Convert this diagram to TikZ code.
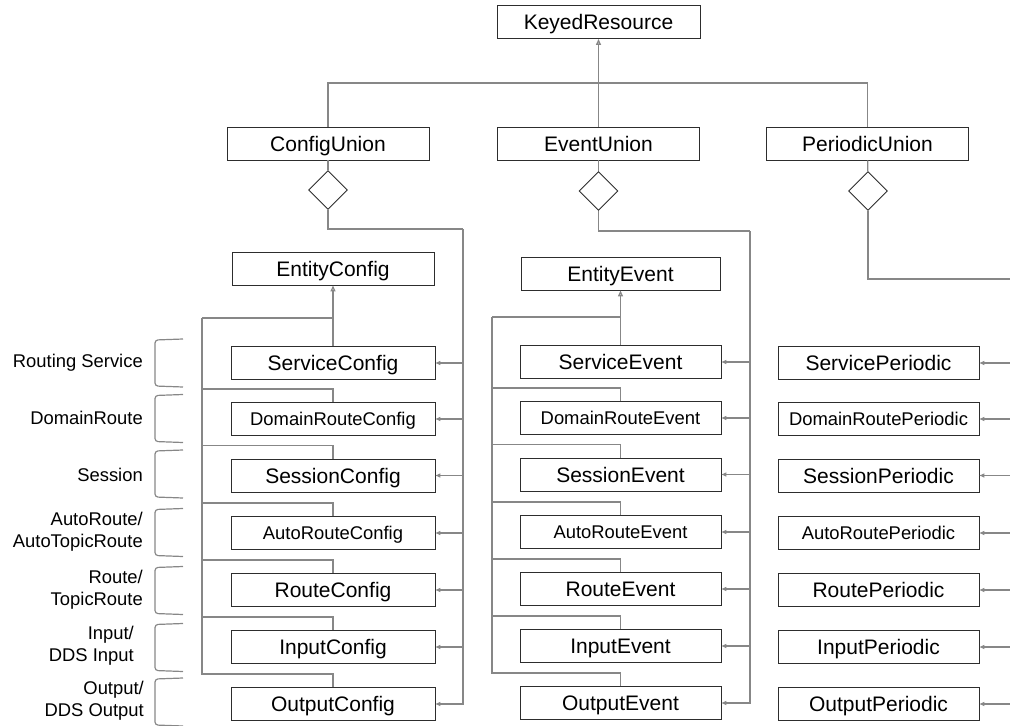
\documentclass[tikz,border=0pt]{standalone}
\usepackage{fontspec}
\setmainfont{Liberation Sans}
\usetikzlibrary{shapes.geometric, positioning, calc, arrows.meta}
\definecolor{krLine}{RGB}{135,135,135}
\definecolor{krBox}{RGB}{45,45,45}

\tikzset{
  classbox/.style={draw=krBox, line width=0.9pt, minimum height=33pt, inner sep=0pt, fill=white,
    text height=15pt, text depth=0pt, font=\fontsize{21}{25}\selectfont},
  aggmark/.style={diamond, draw=krBox, line width=0.9pt, minimum width=39pt, minimum height=39pt, inner sep=0pt},
  conn/.style={draw=krLine, line width=1.3pt},
  feed/.style={conn, -{Triangle[length=5pt,width=4pt]}},
  inherit/.style={conn, -{Triangle[open,length=6pt,width=5pt]}},
  bracket/.style={draw=krLine, line width=1.2pt, rounded corners=3pt},
  sidelabel/.style={anchor=east, align=right, inner sep=0pt, font=\fontsize{18.4}{22}\selectfont}
}

\begin{document}
\begin{tikzpicture}[x=1pt, y=-1pt]
  \useasboundingbox (0,0) rectangle (1010,726);

  % top of the hierarchy
  \node[classbox, minimum width=203pt] (kr) at (598.5,22) {KeyedResource};
  \node[classbox, minimum width=202pt] (cu) at (328,143.5) {ConfigUnion};
  \node[classbox, minimum width=202pt] (eu) at (598.5,143.5) {EventUnion};
  \node[classbox, minimum width=202pt] (pu) at (867.5,143.5) {PeriodicUnion};
  \draw[inherit] (eu.north) -- (kr.south);
  \draw[conn] (cu.north) |- (eu.north |- 0,83) -| (pu.north);

  % aggregation diamonds
  \node[aggmark] (cd) at (328,190) {};
  \node[aggmark] (ed) at (598.5,191) {};
  \node[aggmark] (pd) at (868,191) {};
  \draw[conn] (cu) -- (cd);
  \draw[conn] (eu) -- (ed);
  \draw[conn] (pu) -- (pd);

  % base classes
  \node[classbox, minimum width=202pt] (ec) at (333,268.5) {EntityConfig};
  \node[classbox, minimum width=199pt] (ee) at (620.5,273.5) {EntityEvent};

  % one row per entity
  \foreach \i/\nm/\sz/\th/\y in {1/Service/21/15/363, 2/DomainRoute/18.4/13.2/419, 3/Session/21/15/475.5,
      4/AutoRoute/18.4/13.2/533, 5/Route/21/15/590, 6/Input/21/15/647, 7/Output/21/15/704} {
    \node[classbox, minimum width=204pt, text height=\th pt, font=\fontsize{\sz}{22}\selectfont] (c\i) at (333,\y) {\nm Config};
    \node[classbox, minimum width=201pt, text height=\th pt, font=\fontsize{\sz}{22}\selectfont] (e\i) at (620.5,\y-1) {\nm Event};
    \node[classbox, minimum width=201pt, text height=\th pt, font=\fontsize{\sz}{22}\selectfont] (p\i) at (878.5,\y) {\nm Periodic};
  }

  % inheritance trees
  \coordinate (cbus) at (202,318);
  \coordinate (ebus) at (492,317);
  \draw[inherit] (c1.north) -- (ec.south);
  \draw[inherit] (e1.north) -- (ee.south);
  \draw[conn] (cbus) -- (cbus -| c1.north);
  \draw[conn] (ebus) -- (ebus -| e1.north);
  \foreach \i in {2,...,7} {
    \draw[conn] (c\i.north) -- ++(0,-13) -| (cbus);
    \draw[conn] (e\i.north) -- ++(0,-13) -| (ebus);
  }

  % union members
  \coordinate (cr) at (463,229);
  \coordinate (er) at (750,231);
  \coordinate (pr) at (1010,279);
  \draw[conn] (cd.south) |- (cr);
  \draw[conn] (ed.south) |- (er);
  \draw[conn] (pd.south) |- (pr);
  \draw[feed] (cr) |- (c7.east);
  \draw[feed] (er) |- (e7.east);
  \foreach \i in {1,...,6} {
    \draw[feed] (cr |- c\i.east) -- (c\i.east);
    \draw[feed] (er |- e\i.east) -- (e\i.east);
  }
  \foreach \i in {1,...,7}
    \draw[feed] (pr |- p\i.east) -- (p\i.east);

  % entity labels
  \foreach \i/\x/\y/\txt in {1/143/363/Routing Service, 2/143/418/DomainRoute, 3/143/475/Session,
      4/143/532/{AutoRoute/\\AutoTopicRoute}, 5/143/590/{Route/\\TopicRoute},
      6/134/646/{Input/\\DDS Input}, 7/144/701/{Output/\\DDS Output}} {
    \node[sidelabel] (lab\i) at (\x,\y) {\txt};
  }
  \foreach \y in {363,418.5,474,532.5,590.5,647.5,702}
    \draw[bracket] (183,\y-24) -- (155,\y-23) -- (155,\y+23) -- (183,\y+24);
\end{tikzpicture}
\end{document}
